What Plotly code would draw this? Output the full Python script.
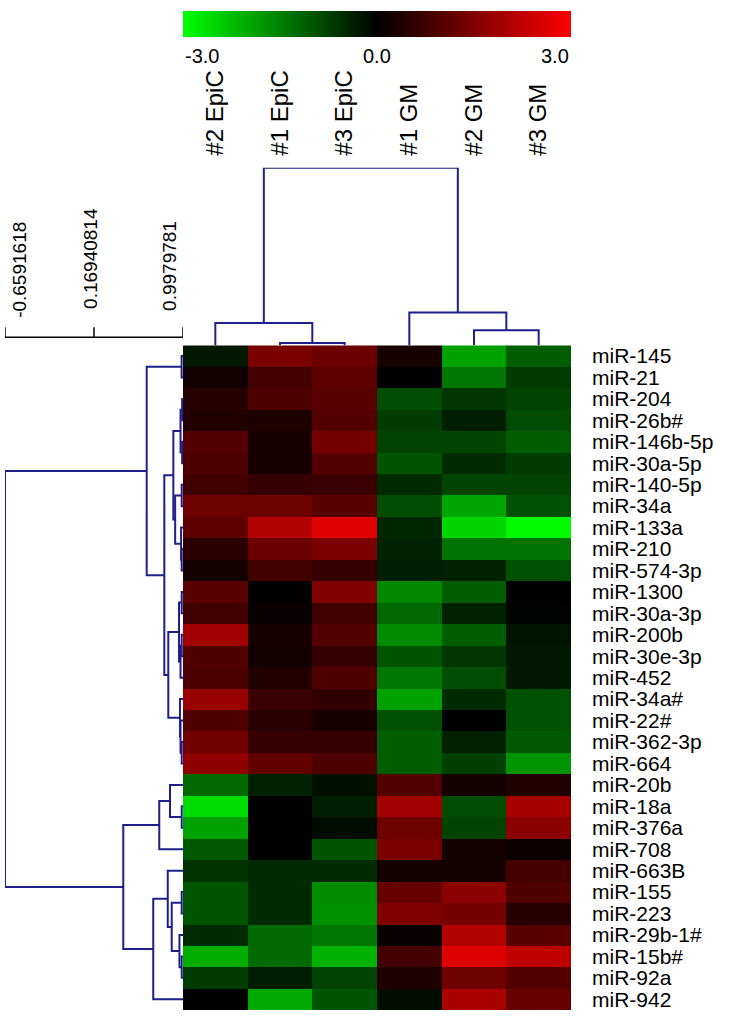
import plotly.graph_objects as go

# ---------------- data ----------------
samples = ["#2 EpiC", "#1 EpiC", "#3 EpiC", "#1 GM", "#2 GM", "#3 GM"]
mirnas = ["miR-145", "miR-21", "miR-204", "miR-26b#", "miR-146b-5p", "miR-30a-5p",
          "miR-140-5p", "miR-34a", "miR-133a", "miR-210", "miR-574-3p", "miR-1300",
          "miR-30a-3p", "miR-200b", "miR-30e-3p", "miR-452", "miR-34a#", "miR-22#",
          "miR-362-3p", "miR-664", "miR-20b", "miR-18a", "miR-376a", "miR-708",
          "miR-663B", "miR-155", "miR-223", "miR-29b-1#", "miR-15b#", "miR-92a", "miR-942"]

expr = [
    [-0.30, 1.45, 1.25, 0.30, -1.90, -1.10],
    [0.20, 0.80, 1.10, 0.03, -1.40, -0.70],
    [0.45, 0.90, 1.05, -0.90, -0.65, -0.80],
    [0.40, 0.35, 1.00, -0.70, -0.35, -0.90],
    [1.00, 0.30, 1.40, -0.80, -0.80, -1.10],
    [0.90, 0.30, 1.00, -1.00, -0.50, -0.70],
    [0.75, 0.65, 0.70, -0.50, -0.80, -0.80],
    [1.30, 1.30, 1.05, -0.90, -1.95, -0.95],
    [1.10, 2.10, 2.65, -0.45, -2.50, -2.95],
    [0.50, 1.25, 1.45, -0.40, -1.35, -1.35],
    [0.25, 0.75, 0.65, -0.35, -0.40, -0.95],
    [1.05, 0.05, 1.50, -1.60, -1.10, 0.00],
    [0.75, 0.10, 0.75, -1.25, -0.40, -0.05],
    [1.90, 0.30, 1.00, -1.65, -1.10, -0.25],
    [0.95, 0.25, 0.65, -1.00, -0.65, -0.30],
    [0.90, 0.40, 0.95, -1.40, -0.90, -0.30],
    [1.80, 0.70, 0.60, -1.90, -0.50, -0.95],
    [0.95, 0.50, 0.30, -0.95, 0.00, -0.95],
    [1.35, 0.65, 0.65, -1.10, -0.40, -1.05],
    [1.70, 1.15, 0.90, -1.10, -0.75, -1.75],
    [-1.25, -0.40, -0.20, 1.00, 0.25, 0.40],
    [-2.60, 0.00, -0.35, 1.90, -0.90, 1.95],
    [-1.90, 0.00, -0.15, 1.30, -0.80, 1.65],
    [-1.05, 0.00, -1.00, 1.45, 0.25, 0.15],
    [-0.60, -0.50, -0.50, 0.25, 0.25, 0.80],
    [-1.00, -0.50, -1.65, 1.20, 1.65, 0.95],
    [-1.00, -0.50, -1.70, 1.50, 1.40, 0.45],
    [-0.50, -1.25, -1.40, 0.10, 2.10, 1.05],
    [-2.05, -1.25, -2.10, 0.80, 2.60, 2.25],
    [-0.70, -0.35, -0.80, 0.35, 1.30, 1.00],
    [0.00, -2.00, -1.00, -0.15, 2.00, 1.20],
]

# dendrogram scale (correlation) tick values
scale_ticks = [-0.6591618, 0.16940814, 0.9979781]
scale_labels = ["-0.6591618", "0.16940814", "0.9979781"]
leaf_level = 0.9979781

# row tree merges: ids 0..30 are leaves, 31.. are merge results (in order)
N = 31
row_left = [0, 2, 4, N + 1, 6, 9, 8, N + 4, N + 3,           # 31-39
            11, 13, N + 10, N + 9, 18, 17, 16, N + 12,        # 40-47
            N + 8, N + 0,                                     # 48-49
            21, 20, N + 20,                                   # 50-52
            25, 28, 27, N + 22, 24, N + 26, N + 21,           # 53-59
            N + 18]                                           # 60 root
row_right = [1, 3, 5, N + 2, 7, 10, N + 5, N + 6, N + 7,
             12, 14, 15, N + 11, 19, N + 13, N + 14, N + 15,
             N + 16, N + 17,
             22, N + 19, 23,
             26, 29, N + 23, N + 24, N + 25, 30, N + 27,
             N + 28]
row_height = [0.985, 0.990, 0.990, 0.975, 0.986, 0.986, 0.980, 0.925, 0.908,
              0.986, 0.986, 0.975, 0.961, 0.986, 0.975, 0.970, 0.861,
              0.824, 0.660,
              0.986, 0.877, 0.777,
              0.986, 0.986, 0.965, 0.893, 0.856, 0.721, 0.442,
              -0.6591618]

# column tree merges (leaves 0..5)
col_left = [1, 0, 4, 3, 6 + 1]
col_right = [2, 6 + 0, 5, 6 + 2, 6 + 3]
col_height = [0.977, 0.790, 0.858, 0.691, -0.6591618]

# ---------------- helpers ----------------
W, H = 738, 1021
def px(xp):
    return xp / W
def py(yp):
    return 1 - yp / H

def dendro_segments(n_leaves, left, right, height, leaf_h):
    pos = list(range(n_leaves))
    hts = [leaf_h] * n_leaves
    a, b = [], []
    for l, r, h in zip(left, right, height):
        a += [hts[l], h, h, hts[r], None]
        b += [pos[l], pos[l], pos[r], pos[r], None]
        pos.append((pos[l] + pos[r]) / 2)
        hts.append(h)
    return a, b

FONT = "Arial, Liberation Sans, sans-serif"
DCOL = "rgb(30,30,140)"

hm_x0, hm_x1 = 183, 571
hm_y0, hm_y1 = 345, 1011
dendro_top = 167

fig = go.Figure()

fig.add_trace(go.Heatmap(
    z=expr, x=list(range(len(samples))), y=list(range(len(mirnas))),
    colorscale=[[0, "rgb(0,255,0)"], [0.5, "rgb(0,0,0)"], [1, "rgb(255,0,0)"]],
    zmin=-3, zmax=3, xaxis="x", yaxis="y",
    colorbar=dict(orientation="h", x=px((hm_x0 + hm_x1) / 2), xanchor="center",
                  y=py(10), yanchor="top", len=hm_x1 - hm_x0, lenmode="pixels",
                  thickness=26, outlinewidth=0, xpad=0, ypad=0,
                  showticklabels=False, ticks=""),
    hoverinfo="skip"))

rx, ry = dendro_segments(len(mirnas), row_left, row_right, row_height, leaf_level)
fig.add_trace(go.Scatter(x=rx, y=ry, mode="lines", line=dict(color=DCOL, width=2),
                         xaxis="x2", yaxis="y2", hoverinfo="skip", showlegend=False,
                         cliponaxis=False))

cy, cx = dendro_segments(len(samples), col_left, col_right, col_height, leaf_level)
fig.add_trace(go.Scatter(x=cx, y=cy, mode="lines", line=dict(color=DCOL, width=2),
                         xaxis="x3", yaxis="y3", hoverinfo="skip", showlegend=False,
                         cliponaxis=False))

ydom = [py(hm_y1), py(hm_y0)]
xdom = [px(hm_x0), px(hm_x1)]

fig.update_layout(
    width=W, height=H, margin=dict(l=0, r=0, t=0, b=0),
    paper_bgcolor="white", plot_bgcolor="white", showlegend=False,
    font=dict(family=FONT, color="black"),
    xaxis=dict(domain=xdom, range=[-0.5, len(samples) - 0.5], showticklabels=False,
               showgrid=False, zeroline=False, ticks=""),
    yaxis=dict(domain=ydom, range=[len(mirnas) - 0.5, -0.5], side="right",
               tickvals=list(range(len(mirnas))), ticktext=mirnas,
               tickfont=dict(size=21, family=FONT), ticks="", ticklabelstandoff=20,
               showgrid=False, zeroline=False),
    xaxis2=dict(domain=[px(5), px(hm_x0)], range=[scale_ticks[0], leaf_level],
                visible=False, anchor="y2"),
    yaxis2=dict(domain=ydom, range=[len(mirnas) - 0.5, -0.5], visible=False, anchor="x2"),
    xaxis3=dict(domain=xdom, range=[-0.5, len(samples) - 0.5], side="top", anchor="y3",
                tickvals=list(range(len(samples))), ticktext=samples, tickangle=-90,
                tickfont=dict(size=24, family=FONT), ticks="", ticklabelstandoff=11,
                showgrid=False, zeroline=False, showline=False),
    yaxis3=dict(domain=[py(hm_y0), py(dendro_top)], range=[leaf_level, scale_ticks[0]],
                visible=False, anchor="x3"),
)

# scale bar for the row dendrogram
bar_y = 337
fig.add_shape(type="line", xref="x2", yref="paper", x0=scale_ticks[0], x1=scale_ticks[-1],
              y0=py(bar_y), y1=py(bar_y), line=dict(color="black", width=1.5))
anchors = ["left", "center", "right"]
shifts = [2, -3, -1]
bottoms = [320, 311, 313]
for t, lab, an, sh, bt in zip(scale_ticks, scale_labels, anchors, shifts, bottoms):
    fig.add_shape(type="line", xref="x2", yref="paper", x0=t, x1=t,
                  y0=py(bar_y), y1=py(bar_y - 10), line=dict(color="black", width=1.5))
    fig.add_annotation(x=t, y=py(bt), xref="x2", yref="paper", text=lab, textangle=-90,
                       showarrow=False, xanchor=an, yanchor="bottom", xshift=sh,
                       font=dict(size=19, family=FONT))

# colorbar labels
cb_vals = ["-3.0", "0.0", "3.0"]
cb_pos = [hm_x0, (hm_x0 + hm_x1) / 2, hm_x1]
cb_anchor = ["left", "center", "right"]
for v, xp_, an in zip(cb_vals, cb_pos, cb_anchor):
    fig.add_annotation(x=px(xp_), y=py(42), xref="paper", yref="paper", text=v,
                       showarrow=False, xanchor=an, yanchor="top",
                       font=dict(size=20, family=FONT))

fig.write_html("out.html", config={"displayModeBar": False},
               post_script="document.body.style.margin='0';document.body.style.padding='0';")
